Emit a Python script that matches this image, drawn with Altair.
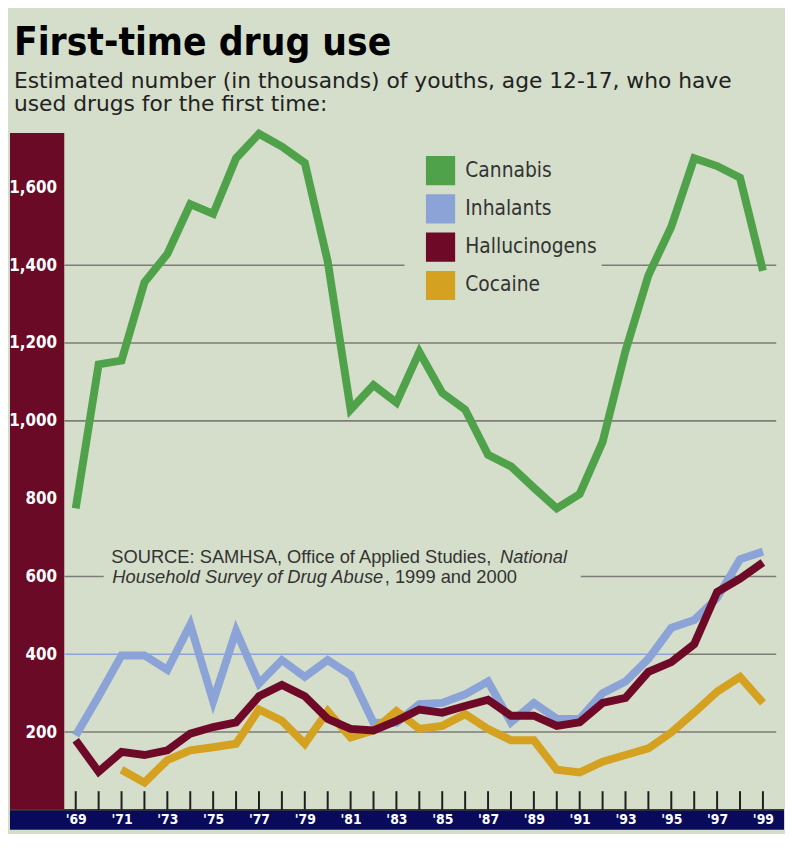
import altair as alt
import pandas as pd

# ---------------- data (thousands of first-time users, age 12-17) ----------------
years = list(range(1969, 2000))
cannabis = [775, 1145, 1155, 1356, 1429, 1557, 1532, 1675, 1738, 1705, 1663, 1410, 1029,
            1092, 1047, 1177, 1072, 1029, 913, 883, 828, 775, 812, 946, 1180, 1374, 1499,
            1675, 1655, 1625, 1386]
inhalants = [191, 292, 397, 397, 360, 476, 279, 460, 325, 385, 342, 385, 347, 224, 224,
             272, 275, 297, 330, 225, 275, 234, 234, 300, 330, 388, 468, 488, 545, 644, 664]
hallucinogens = [179, 98, 149, 141, 153, 196, 213, 225, 292, 321, 292, 234, 208, 204, 229,
                 258, 250, 267, 283, 242, 242, 216, 225, 275, 288, 355, 380, 426, 560, 594, 636]
cocaine_years = list(range(1971, 2000))
cocaine = [103, 70, 128, 153, 161, 170, 258, 229, 170, 254, 186, 204, 254, 208, 216, 246,
           208, 179, 179, 103, 96, 124, 141, 158, 199, 250, 304, 342, 275]

series_names = ["Cannabis", "Inhalants", "Hallucinogens", "Cocaine"]
series_colors = ["#50a24a", "#8ba3d6", "#6e0a28", "#d4a120"]

y_tick_values = [200, 400, 600, 800, 1000, 1200, 1400, 1600]
x_label_years = list(range(1969, 2000, 2))

title_text = "First-time drug use"
subtitle_lines = ["Estimated number (in thousands) of youths, age 12-17, who have",
                  "used drugs for the first time:"]
source_parts = ["SOURCE: SAMHSA, Office of Applied Studies,", "National",
                "Household Survey of Drug Abuse", ", 1999 and 2000"]

# ---------------- scales / frame ----------------
X_MIN, X_MAX = 1966.13, 1999.92
BAND_EDGE = 1968.5
Y_MIN, Y_MAX = -51.2, 1740
GRID_END = 1999.58

BG = "#d5deca"
MAROON = "#6b0a26"
NAVY = "#0a0a5c"
COND = "DejaVu Sans Condensed"

xscale = alt.Scale(domain=[X_MIN, X_MAX], nice=False, zero=False)
yscale = alt.Scale(domain=[Y_MIN, Y_MAX], nice=False, zero=False)

xaxis = alt.Axis(values=x_label_years, labelExpr="\"'\" + slice(toString(datum.value), 2)",
                 ticks=False, grid=False, domain=False, labelColor="white", labelFont=COND,
                 labelFontWeight="bold", labelFontSize=14, labelBaseline="middle",
                 labelPadding=-10, title=None, labelFlush=False, labelOverlap=False, zindex=1,
                 minExtent=0, maxExtent=0)
yaxis = alt.Axis(values=y_tick_values, format=",d", ticks=False, grid=False, domain=False,
                 labelColor="white", labelFont=COND, labelFontWeight="bold",
                 labelFontSize=17, labelPadding=-47, labelAlign="right", title=None,
                 zindex=1, labelFlush=False, labelOverlap=False, minExtent=0, maxExtent=0)


def X(f):
    return alt.X(f, type="quantitative", scale=xscale, axis=xaxis)


def Y(f):
    return alt.Y(f, type="quantitative", scale=yscale, axis=yaxis)


color_scale = alt.Scale(domain=series_names, range=series_colors)

# maroon label band on the left, navy band along the bottom
band = alt.Chart(pd.DataFrame({"x": [X_MIN], "x2": [BAND_EDGE], "y": [0], "y2": [Y_MAX]})).mark_rect(
    color=MAROON).encode(x=X("x"), x2="x2", y=Y("y"), y2="y2")
navy = alt.Chart(pd.DataFrame({"x": [X_MIN], "x2": [X_MAX], "y": [Y_MIN], "y2": [0]})).mark_rect(
    color=NAVY).encode(x=X("x"), x2="x2", y=Y("y"), y2="y2")

# grid segments (gaps left for legend and source note)
grey_grid = pd.DataFrame({
    "y": [200, 400, 600, 600, 1000, 1200, 1400, 1400],
    "x": [BAND_EDGE, 1995.06, BAND_EDGE, 1991.05, BAND_EDGE, BAND_EDGE, BAND_EDGE, 1991.96],
    "x2": [GRID_END, GRID_END, 1970.22, GRID_END, GRID_END, GRID_END, 1983.35, GRID_END],
})
blue_grid = pd.DataFrame({"y": [400], "x": [BAND_EDGE], "x2": [1995.06]})
grid1 = alt.Chart(grey_grid).mark_rule(color="#7d7d78", strokeWidth=1.6).encode(
    x=X("x"), x2="x2", y=Y("y"))
grid2 = alt.Chart(blue_grid).mark_rule(color="#8ba3d6", strokeWidth=1.6).encode(
    x=X("x"), x2="x2", y=Y("y"))

# baseline and year ticks
base = alt.Chart(pd.DataFrame({"x": [X_MIN], "x2": [X_MAX], "y": [0]})).mark_rule(
    color="#3a3a3a", strokeWidth=2).encode(x=X("x"), x2="x2", y=Y("y"))
ticks = alt.Chart(pd.DataFrame({"x": years, "y": [0] * len(years), "y2": [48] * len(years)})).mark_rule(
    color="#1e1e1e", strokeWidth=2).encode(x=X("x"), y=Y("y"), y2="y2")

# source note
src = pd.DataFrame({
    "t": source_parts,
    "x": [1970.55, 1987.52, 1970.6, 1982.49],
    "y": [635, 635, 584, 584],
    "it": ["normal", "italic", "italic", "normal"],
})
src_normal = alt.Chart(src[src.it == "normal"]).mark_text(
    align="left", baseline="alphabetic", font="Liberation Sans", fontSize=18.5, color="#333333"
).encode(x=X("x"), y=Y("y"), text="t:N")
src_italic = alt.Chart(src[src.it == "italic"]).mark_text(
    align="left", baseline="alphabetic", font="Liberation Sans", fontSize=18.5, fontStyle="italic",
    color="#333333").encode(x=X("x"), y=Y("y"), text="t:N")

# legend: carried by a filled-square layer with no rows, so its swatches are solid squares
legend = alt.Legend(orient="none", legendX=420, legendY=23, title=None, symbolType="square",
                    symbolSize=784, symbolStrokeWidth=1.5, symbolStrokeColor="#3a3a3a",
                    symbolOpacity=1, labelFont=COND, labelFontSize=21, labelColor="#333333",
                    labelOffset=10, rowPadding=4.7, padding=0, labelLimit=300)
legend_layer = alt.Chart(pd.DataFrame({"year": pd.Series([], dtype=float),
                                       "value": pd.Series([], dtype=float),
                                       "drug": pd.Series([], dtype=str)})).mark_square(
    filled=True).encode(x=X("year"), y=Y("value"),
                        color=alt.Color("drug:N", scale=color_scale, legend=legend))


def line_layer(name, xs, vals):
    df = pd.DataFrame({"year": xs, "value": vals, "drug": [name] * len(xs)})
    return alt.Chart(df).mark_line(strokeWidth=8, strokeJoin="miter", strokeMiterLimit=4,
                                   strokeCap="butt").encode(
        x=X("year"), y=Y("value"), color=alt.Color("drug:N", scale=color_scale, legend=None))


lines = [
    line_layer("Cannabis", years, cannabis),
    line_layer("Inhalants", years, inhalants),
    line_layer("Cocaine", cocaine_years, cocaine),
    line_layer("Hallucinogens", years, hallucinogens),
]

chart = alt.layer(band, navy, grid1, grid2, base, ticks, src_normal, src_italic, legend_layer,
                  *lines).properties(
    width=785,
    height=826,
    autosize=alt.AutoSizeParams(type="fit", contains="padding"),
    padding={"left": 0, "right": 0, "top": 11, "bottom": 0},
    background=BG,
    title=alt.TitleParams(
        text=title_text, subtitle=subtitle_lines, anchor="start", dx=4, frame="group",
        font=COND, fontSize=39, fontWeight="bold", color="black",
        subtitleFont="DejaVu Sans", subtitleFontSize=22, subtitleColor="#222222",
        subtitleLineHeight=23, subtitlePadding=9, offset=3),
).configure_view(stroke=None)

chart.save("out.html", embed_options={"renderer": "svg", "actions": False})
